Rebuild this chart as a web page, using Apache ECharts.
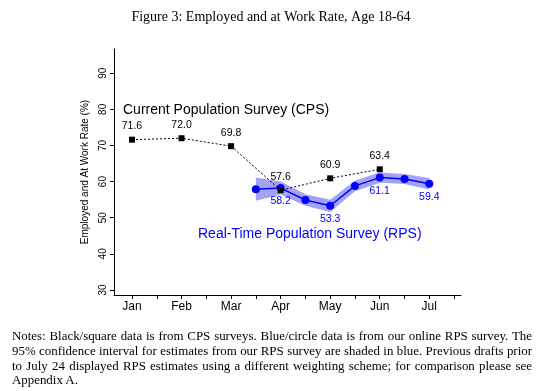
<!DOCTYPE html>
<html>
<head>
<meta charset="utf-8">
<script src="https://cdn.jsdelivr.net/npm/echarts@6/dist/echarts.min.js"></script>
<style>
  html, body { margin:0; padding:0; background:#fff; }
  #wrap { position:relative; width:542px; height:391px; overflow:hidden; }
  #chart { position:absolute; left:0; top:0; width:542px; height:391px; }
  #notes { position:absolute; left:12px; top:329px; width:520px; font-family:"Liberation Serif","Times New Roman",serif; font-size:12.9px; line-height:14.8px; text-align:justify; color:#000; }
</style>
</head>
<body>
<div id="wrap">
  <div id="chart"></div>
  <div id="notes">Notes: Black/square data is from CPS surveys. Blue/circle data is from our online RPS survey. The 95% confidence interval for estimates from our RPS survey are shaded in blue. Previous drafts prior to July 24 displayed RPS estimates using a different weighting scheme; for comparison please see Appendix A.</div>
</div>
<script>
// ---- data ----
var months = ['Jan', 'Feb', 'Mar', 'Apr', 'May', 'Jun', 'Jul'];
var monthPos = [1, 2, 3, 4, 5, 6, 7];
var halfTicks = [1, 1.5, 2, 2.5, 3, 3.5, 4, 4.5, 5, 5.5, 6, 6.5, 7, 7.5];
var yTicks = [30, 40, 50, 60, 70, 80, 90];

var cpsX = [1, 2, 3, 4, 5, 6];
var cpsY = [71.6, 72.0, 69.8, 57.6, 60.9, 63.4];

var rpsX = [3.5, 4, 4.5, 5, 5.5, 6, 6.5, 7];
var rpsY = [57.9, 58.2, 54.9, 53.3, 58.8, 61.1, 60.7, 59.4];
var rpsLo = [54.7, 56.4, 53.3, 51.6, 57.3, 59.7, 59.3, 57.8];
var rpsHi = [61.1, 60.0, 56.5, 55.0, 60.3, 62.5, 62.1, 61.0];
var rpsLabeled = [false, true, false, true, false, true, false, true];

// ---- build ----
function pairs(xs, ys) { return xs.map(function (x, i) { return [x, ys[i]]; }); }
var bandData = rpsX.map(function (x, i) { return [x, rpsLo[i], rpsHi[i]]; });

var chart = echarts.init(document.getElementById('chart'), null, { renderer: 'canvas' });
var sans = 'Liberation Sans';

function renderBand(params, api) {
  if (params.dataIndex !== 0) return null;
  var upper = [], lower = [];
  for (var i = 0; i < bandData.length; i++) {
    upper.push(api.coord([bandData[i][0], bandData[i][2]]));
    lower.push(api.coord([bandData[i][0], bandData[i][1]]));
  }
  var pts = upper.concat(lower.reverse());
  return {
    type: 'polygon',
    shape: { points: pts },
    style: { fill: '#a3a3f6', stroke: null }
  };
}

chart.setOption({
  animation: false,
  backgroundColor: '#fff',
  title: {
    text: 'Figure 3: Employed and at Work Rate, Age 18-64',
    left: 'center',
    top: 5,
    textStyle: { fontFamily: 'Liberation Serif', fontSize: 14, fontWeight: 'normal', color: '#000' }
  },
  grid: { left: 114, top: 49, right: 81, bottom: 96, containLabel: false },
  xAxis: {
    type: 'value',
    min: 0.637,
    max: 7.64,
    axisLine: { show: true, onZero: false, lineStyle: { color: '#000', width: 1 } },
    axisTick: { show: true, customValues: halfTicks, length: 4, inside: false, lineStyle: { color: '#000', width: 1 } },
    axisLabel: {
      customValues: monthPos,
      margin: 6,
      fontFamily: sans, fontSize: 12, color: '#000',
      formatter: function (v) { return months[Math.round(v) - 1]; }
    },
    splitLine: { show: false }
  },
  yAxis: {
    type: 'value',
    min: 28.6,
    max: 96.7,
    name: 'Employed and At Work Rate (%)',
    nameLocation: 'middle',
    nameGap: 21,
    nameRotate: 90,
    nameTextStyle: { fontFamily: sans, fontSize: 10, color: '#000' },
    axisLine: { show: true, onZero: false, lineStyle: { color: '#000', width: 1 } },
    axisTick: { show: true, customValues: yTicks, length: 4, lineStyle: { color: '#000', width: 1 } },
    axisLabel: { customValues: yTicks, rotate: 90, margin: 6, fontFamily: sans, fontSize: 10, color: '#000' },
    splitLine: { show: false }
  },
  series: [
    {
      name: 'band', type: 'custom', data: bandData, renderItem: renderBand,
      encode: { x: 0, y: [1, 2] }, silent: true, z: 1, clip: true
    },
    {
      name: 'RPS', type: 'line', data: pairs(rpsX, rpsY), z: 2,
      symbol: 'circle', symbolSize: 8,
      itemStyle: { color: '#0000ff' },
      lineStyle: { color: '#0000ff', width: 1.5 },
      label: {
        show: true, position: 'bottom', distance: 4,
        fontFamily: sans, fontSize: 10.5, color: '#0000ff',
        formatter: function (p) { return rpsLabeled[p.dataIndex] ? p.value[1].toFixed(1) : ''; }
      }
    },
    {
      name: 'CPS', type: 'line', data: pairs(cpsX, cpsY), z: 3,
      symbol: 'rect', symbolSize: 6,
      itemStyle: { color: '#000' },
      lineStyle: { color: '#000', width: 1, type: [2, 2] },
      label: {
        show: true, position: 'top', distance: 5,
        fontFamily: sans, fontSize: 10.5, color: '#000',
        formatter: function (p) { return p.value[1].toFixed(1); }
      }
    }
  ],
  graphic: [
    {
      type: 'text', x: 123, y: 110, z: 10,
      style: { text: 'Current Population Survey (CPS)', font: '14px "Liberation Sans"', fill: '#000', textAlign: 'left', textVerticalAlign: 'middle', align: 'left', verticalAlign: 'middle' }
    },
    {
      type: 'text', x: 198, y: 234, z: 10,
      style: { text: 'Real-Time Population Survey (RPS)', font: '14px "Liberation Sans"', fill: '#0000ff', textAlign: 'left', textVerticalAlign: 'middle', align: 'left', verticalAlign: 'middle' }
    }
  ]
});
</script>
</body>
</html>
